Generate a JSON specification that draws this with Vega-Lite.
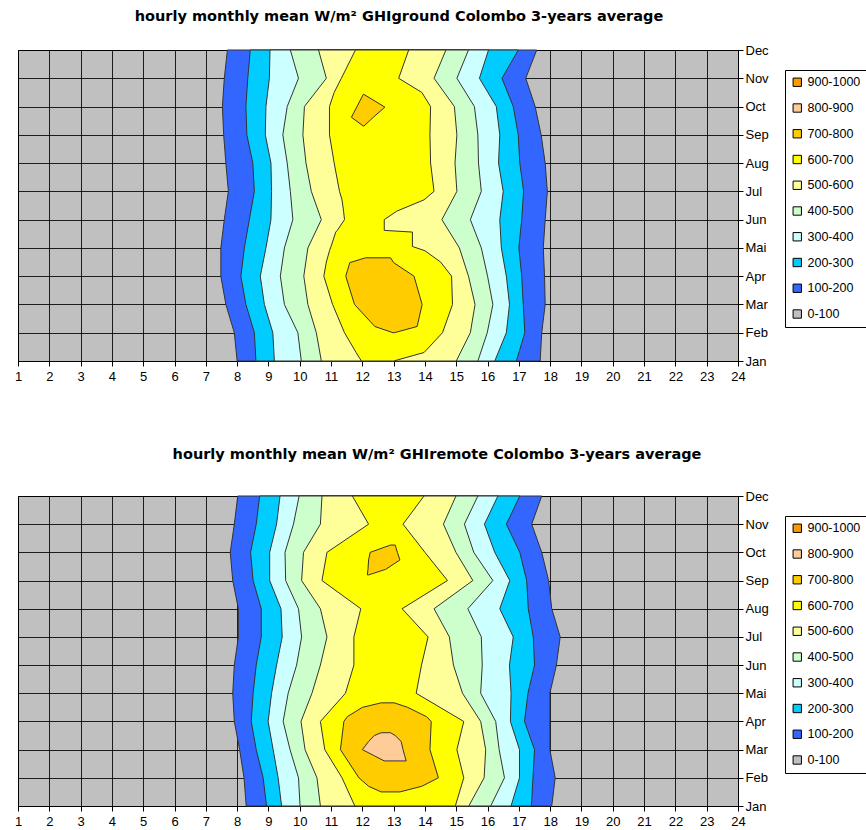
{
  "$schema": "https://vega.github.io/schema/vega-lite/v6.json",
  "background": "white",
  "padding": {"left": 13, "top": 8, "right": 0, "bottom": 0},
  "spacing": 62,
  "config": {
    "font": "Liberation Sans",
    "view": {"stroke": "#000", "strokeWidth": 1, "fill": "#C0C0C0"},
    "axis": {"grid": true, "gridColor": "#000", "gridOpacity": 0.85, "gridWidth": 1, "domainColor": "#000", "tickColor": "#000", "labelColor": "#000", "labelFontSize": 13, "tickSize": 5, "zindex": 1, "title": null, "labelOverlap": false},
    "legend": {"orient": "none", "legendX": 767, "legendY": 20, "title": null, "symbolType": "square", "symbolSize": 70, "symbolStrokeColor": "#000", "symbolStrokeWidth": 1, "labelFontSize": 12.5, "labelColor": "#000", "rowPadding": 12.75, "padding": 6, "strokeColor": "#000", "fillColor": "#fff", "labelOffset": 4, "labelLimit": 0},
    "title": {"fontSize": 14.5, "font": "DejaVu Sans", "fontWeight": "bold", "color": "#000", "frame": "group", "anchor": "middle"}
  },
  "resolve": {"scale": {"color": "independent"}, "legend": {"color": "independent"}},
  "datasets": {
    "ground": [
      {"b": "100-200", "p": "a", "m": 11, "lo": 7.69, "hi": 17.57},
      {"b": "100-200", "p": "a", "m": 10, "lo": 7.59, "hi": 17.22},
      {"b": "100-200", "p": "a", "m": 9, "lo": 7.53, "hi": 17.52},
      {"b": "100-200", "p": "a", "m": 8, "lo": 7.57, "hi": 17.71},
      {"b": "100-200", "p": "a", "m": 7, "lo": 7.64, "hi": 17.84},
      {"b": "100-200", "p": "a", "m": 6, "lo": 7.72, "hi": 17.91},
      {"b": "100-200", "p": "a", "m": 5, "lo": 7.59, "hi": 17.84},
      {"b": "100-200", "p": "a", "m": 4, "lo": 7.48, "hi": 17.78},
      {"b": "100-200", "p": "a", "m": 3, "lo": 7.48, "hi": 17.82},
      {"b": "100-200", "p": "a", "m": 2, "lo": 7.64, "hi": 17.84},
      {"b": "100-200", "p": "a", "m": 1, "lo": 7.91, "hi": 17.73},
      {"b": "100-200", "p": "a", "m": 0, "lo": 8.0, "hi": 17.68},
      {"b": "200-300", "p": "a", "m": 11, "lo": 8.42, "hi": 16.98},
      {"b": "200-300", "p": "a", "m": 10, "lo": 8.34, "hi": 16.46},
      {"b": "200-300", "p": "a", "m": 9, "lo": 8.28, "hi": 16.82},
      {"b": "200-300", "p": "a", "m": 8, "lo": 8.31, "hi": 16.98},
      {"b": "200-300", "p": "a", "m": 7, "lo": 8.5, "hi": 17.03},
      {"b": "200-300", "p": "a", "m": 6, "lo": 8.55, "hi": 17.15},
      {"b": "200-300", "p": "a", "m": 5, "lo": 8.39, "hi": 17.09},
      {"b": "200-300", "p": "a", "m": 4, "lo": 8.23, "hi": 17.0},
      {"b": "200-300", "p": "a", "m": 3, "lo": 8.12, "hi": 17.09},
      {"b": "200-300", "p": "a", "m": 2, "lo": 8.28, "hi": 17.14},
      {"b": "200-300", "p": "a", "m": 1, "lo": 8.55, "hi": 17.19},
      {"b": "200-300", "p": "a", "m": 0, "lo": 8.6, "hi": 16.92},
      {"b": "300-400", "p": "a", "m": 11, "lo": 9.05, "hi": 16.03},
      {"b": "300-400", "p": "a", "m": 10, "lo": 9.03, "hi": 15.74},
      {"b": "300-400", "p": "a", "m": 9, "lo": 8.92, "hi": 16.28},
      {"b": "300-400", "p": "a", "m": 8, "lo": 8.9, "hi": 16.39},
      {"b": "300-400", "p": "a", "m": 7, "lo": 9.08, "hi": 16.35},
      {"b": "300-400", "p": "a", "m": 6, "lo": 9.1, "hi": 16.5},
      {"b": "300-400", "p": "a", "m": 5, "lo": 9.08, "hi": 16.39},
      {"b": "300-400", "p": "a", "m": 4, "lo": 8.92, "hi": 16.44},
      {"b": "300-400", "p": "a", "m": 3, "lo": 8.74, "hi": 16.6},
      {"b": "300-400", "p": "a", "m": 2, "lo": 8.87, "hi": 16.7},
      {"b": "300-400", "p": "a", "m": 1, "lo": 9.14, "hi": 16.6},
      {"b": "300-400", "p": "a", "m": 0, "lo": 9.19, "hi": 16.23},
      {"b": "400-500", "p": "a", "m": 11, "lo": 9.7, "hi": 15.39},
      {"b": "400-500", "p": "a", "m": 10, "lo": 9.96, "hi": 15.02},
      {"b": "400-500", "p": "a", "m": 9, "lo": 9.6, "hi": 15.58},
      {"b": "400-500", "p": "a", "m": 8, "lo": 9.46, "hi": 15.69},
      {"b": "400-500", "p": "a", "m": 7, "lo": 9.6, "hi": 15.71},
      {"b": "400-500", "p": "a", "m": 6, "lo": 9.7, "hi": 15.8},
      {"b": "400-500", "p": "a", "m": 5, "lo": 9.78, "hi": 15.45},
      {"b": "400-500", "p": "a", "m": 4, "lo": 9.51, "hi": 15.8},
      {"b": "400-500", "p": "a", "m": 3, "lo": 9.38, "hi": 16.0},
      {"b": "400-500", "p": "a", "m": 2, "lo": 9.51, "hi": 16.17},
      {"b": "400-500", "p": "a", "m": 1, "lo": 9.94, "hi": 15.99},
      {"b": "400-500", "p": "a", "m": 0, "lo": 10.05, "hi": 15.69},
      {"b": "500-600", "p": "a", "m": 11, "lo": 10.6, "hi": 14.67},
      {"b": "500-600", "p": "a", "m": 10, "lo": 10.85, "hi": 14.29},
      {"b": "500-600", "p": "a", "m": 9, "lo": 10.15, "hi": 14.94},
      {"b": "500-600", "p": "a", "m": 8, "lo": 10.1, "hi": 15.02},
      {"b": "500-600", "p": "a", "m": 7, "lo": 10.2, "hi": 14.96},
      {"b": "500-600", "p": "a", "m": 6, "lo": 10.37, "hi": 15.02},
      {"b": "500-600", "p": "a", "m": 5, "lo": 10.69, "hi": 14.54},
      {"b": "500-600", "p": "a", "m": 4, "lo": 10.26, "hi": 15.1},
      {"b": "500-600", "p": "a", "m": 3, "lo": 10.13, "hi": 15.39},
      {"b": "500-600", "p": "a", "m": 2, "lo": 10.26, "hi": 15.6},
      {"b": "500-600", "p": "a", "m": 1, "lo": 10.53, "hi": 15.45},
      {"b": "500-600", "p": "a", "m": 0, "lo": 10.69, "hi": 15.0},
      {"b": "600-700", "p": "a", "m": 11, "lo": 11.78, "hi": 13.48},
      {"b": "600-700", "p": "a", "m": 10, "lo": 11.33, "hi": 13.16},
      {"b": "600-700", "p": "a", "m": 9.5, "lo": 11.1, "hi": 13.9},
      {"b": "600-700", "p": "a", "m": 9, "lo": 10.95, "hi": 14.18},
      {"b": "600-700", "p": "a", "m": 8, "lo": 10.95, "hi": 14.16},
      {"b": "600-700", "p": "a", "m": 7, "lo": 11.1, "hi": 14.18},
      {"b": "600-700", "p": "a", "m": 6, "lo": 11.27, "hi": 14.29},
      {"b": "600-700", "p": "a", "m": 5.7, "lo": 11.35, "hi": 13.97},
      {"b": "600-700", "p": "a", "m": 5.3, "lo": 11.4, "hi": 13.1},
      {"b": "600-700", "p": "a", "m": 5, "lo": 11.43, "hi": 12.7},
      {"b": "600-700", "p": "a", "m": 4.62, "lo": 11.2, "hi": 12.7},
      {"b": "600-700", "p": "a", "m": 4.56, "lo": 11.15, "hi": 13.6},
      {"b": "600-700", "p": "a", "m": 4.05, "lo": 11.0, "hi": 13.6},
      {"b": "600-700", "p": "a", "m": 3.9, "lo": 10.95, "hi": 14.0},
      {"b": "600-700", "p": "a", "m": 3.5, "lo": 10.85, "hi": 14.5},
      {"b": "600-700", "p": "a", "m": 3, "lo": 10.77, "hi": 14.85},
      {"b": "600-700", "p": "a", "m": 2, "lo": 11.05, "hi": 14.88},
      {"b": "600-700", "p": "a", "m": 1, "lo": 11.43, "hi": 14.56},
      {"b": "600-700", "p": "a", "m": 0.3, "lo": 11.8, "hi": 13.97},
      {"b": "600-700", "p": "a", "m": 0, "lo": 11.97, "hi": 13.0},
      {"b": "700-800", "p": "a", "m": 3.65, "lo": 12.1, "hi": 12.9},
      {"b": "700-800", "p": "a", "m": 3.48, "lo": 11.6, "hi": 13.0},
      {"b": "700-800", "p": "a", "m": 3, "lo": 11.47, "hi": 13.65},
      {"b": "700-800", "p": "a", "m": 2, "lo": 11.75, "hi": 13.91},
      {"b": "700-800", "p": "a", "m": 1.22, "lo": 12.4, "hi": 13.75},
      {"b": "700-800", "p": "a", "m": 1, "lo": 12.98, "hi": 13.02},
      {"b": "700-800", "p": "b", "m": 9.43, "lo": 12.03, "hi": 12.05},
      {"b": "700-800", "p": "b", "m": 8.98, "lo": 11.82, "hi": 12.72},
      {"b": "700-800", "p": "b", "m": 8.62, "lo": 11.65, "hi": 12.35},
      {"b": "700-800", "p": "b", "m": 8.31, "lo": 12.03, "hi": 12.05}
    ],
    "remote": [
      {"b": "100-200", "p": "a", "m": 11, "lo": 8.02, "hi": 17.73},
      {"b": "100-200", "p": "a", "m": 10, "lo": 7.91, "hi": 17.41},
      {"b": "100-200", "p": "a", "m": 9, "lo": 7.78, "hi": 17.73},
      {"b": "100-200", "p": "a", "m": 8, "lo": 7.86, "hi": 17.95},
      {"b": "100-200", "p": "a", "m": 7, "lo": 8.04, "hi": 18.05},
      {"b": "100-200", "p": "a", "m": 6, "lo": 8.04, "hi": 18.32},
      {"b": "100-200", "p": "a", "m": 5, "lo": 7.91, "hi": 18.2},
      {"b": "100-200", "p": "a", "m": 4, "lo": 7.86, "hi": 17.99},
      {"b": "100-200", "p": "a", "m": 3, "lo": 7.91, "hi": 17.99},
      {"b": "100-200", "p": "a", "m": 2, "lo": 8.08, "hi": 17.99},
      {"b": "100-200", "p": "a", "m": 1, "lo": 8.22, "hi": 18.16},
      {"b": "100-200", "p": "a", "m": 0, "lo": 8.29, "hi": 18.05},
      {"b": "200-300", "p": "a", "m": 11, "lo": 8.72, "hi": 17.03},
      {"b": "200-300", "p": "a", "m": 10, "lo": 8.61, "hi": 16.6},
      {"b": "200-300", "p": "a", "m": 9, "lo": 8.43, "hi": 17.03},
      {"b": "200-300", "p": "a", "m": 8, "lo": 8.51, "hi": 17.25},
      {"b": "200-300", "p": "a", "m": 7, "lo": 8.77, "hi": 17.3},
      {"b": "200-300", "p": "a", "m": 6, "lo": 8.77, "hi": 17.46},
      {"b": "200-300", "p": "a", "m": 5, "lo": 8.61, "hi": 17.5},
      {"b": "200-300", "p": "a", "m": 4, "lo": 8.51, "hi": 17.29},
      {"b": "200-300", "p": "a", "m": 3, "lo": 8.45, "hi": 17.18},
      {"b": "200-300", "p": "a", "m": 2, "lo": 8.61, "hi": 17.5},
      {"b": "200-300", "p": "a", "m": 1, "lo": 8.83, "hi": 17.45},
      {"b": "200-300", "p": "a", "m": 0, "lo": 8.94, "hi": 17.4},
      {"b": "300-400", "p": "a", "m": 11, "lo": 9.37, "hi": 16.33},
      {"b": "300-400", "p": "a", "m": 10, "lo": 9.26, "hi": 15.9},
      {"b": "300-400", "p": "a", "m": 9, "lo": 9.04, "hi": 16.23},
      {"b": "300-400", "p": "a", "m": 8, "lo": 9.04, "hi": 16.71},
      {"b": "300-400", "p": "a", "m": 7, "lo": 9.4, "hi": 16.39},
      {"b": "300-400", "p": "a", "m": 6, "lo": 9.44, "hi": 16.82},
      {"b": "300-400", "p": "a", "m": 5, "lo": 9.26, "hi": 16.7},
      {"b": "300-400", "p": "a", "m": 4, "lo": 9.1, "hi": 16.75},
      {"b": "300-400", "p": "a", "m": 3, "lo": 8.99, "hi": 16.73},
      {"b": "300-400", "p": "a", "m": 2, "lo": 9.15, "hi": 17.02},
      {"b": "300-400", "p": "a", "m": 1, "lo": 9.31, "hi": 17.02},
      {"b": "300-400", "p": "a", "m": 0, "lo": 9.42, "hi": 16.75},
      {"b": "400-500", "p": "a", "m": 11, "lo": 9.98, "hi": 15.69},
      {"b": "400-500", "p": "a", "m": 10, "lo": 9.8, "hi": 15.26},
      {"b": "400-500", "p": "a", "m": 9, "lo": 9.53, "hi": 15.56},
      {"b": "400-500", "p": "a", "m": 8, "lo": 9.55, "hi": 16.17},
      {"b": "400-500", "p": "a", "m": 7, "lo": 9.96, "hi": 15.37},
      {"b": "400-500", "p": "a", "m": 6, "lo": 10.06, "hi": 15.8},
      {"b": "400-500", "p": "a", "m": 5, "lo": 9.9, "hi": 15.83},
      {"b": "400-500", "p": "a", "m": 4, "lo": 9.63, "hi": 15.78},
      {"b": "400-500", "p": "a", "m": 3, "lo": 9.47, "hi": 16.26},
      {"b": "400-500", "p": "a", "m": 2, "lo": 9.69, "hi": 16.37},
      {"b": "400-500", "p": "a", "m": 1, "lo": 9.96, "hi": 16.54},
      {"b": "400-500", "p": "a", "m": 0, "lo": 10.01, "hi": 16.1},
      {"b": "500-600", "p": "a", "m": 11, "lo": 10.71, "hi": 14.99},
      {"b": "500-600", "p": "a", "m": 10, "lo": 10.66, "hi": 14.59},
      {"b": "500-600", "p": "a", "m": 9, "lo": 10.12, "hi": 14.99},
      {"b": "500-600", "p": "a", "m": 8, "lo": 10.06, "hi": 15.53},
      {"b": "500-600", "p": "a", "m": 7, "lo": 10.66, "hi": 14.29},
      {"b": "500-600", "p": "a", "m": 6, "lo": 10.87, "hi": 14.78},
      {"b": "500-600", "p": "a", "m": 5, "lo": 10.66, "hi": 14.91},
      {"b": "500-600", "p": "a", "m": 4, "lo": 10.39, "hi": 15.2},
      {"b": "500-600", "p": "a", "m": 3, "lo": 10.04, "hi": 15.78},
      {"b": "500-600", "p": "a", "m": 2, "lo": 10.17, "hi": 15.94},
      {"b": "500-600", "p": "a", "m": 1, "lo": 10.55, "hi": 15.89},
      {"b": "500-600", "p": "a", "m": 0, "lo": 10.66, "hi": 15.4},
      {"b": "600-700", "p": "a", "m": 11, "lo": 11.68, "hi": 13.97},
      {"b": "600-700", "p": "a", "m": 10, "lo": 12.2, "hi": 13.3},
      {"b": "600-700", "p": "a", "m": 9, "lo": 10.87, "hi": 14.0},
      {"b": "600-700", "p": "a", "m": 8, "lo": 10.71, "hi": 14.72},
      {"b": "600-700", "p": "a", "m": 7, "lo": 11.95, "hi": 13.27},
      {"b": "600-700", "p": "a", "m": 6, "lo": 11.73, "hi": 14.1},
      {"b": "600-700", "p": "a", "m": 5, "lo": 11.73, "hi": 13.89},
      {"b": "600-700", "p": "a", "m": 4, "lo": 11.46, "hi": 13.72},
      {"b": "600-700", "p": "a", "m": 3, "lo": 10.66, "hi": 15.24},
      {"b": "600-700", "p": "a", "m": 2, "lo": 10.8, "hi": 15.02},
      {"b": "600-700", "p": "a", "m": 1, "lo": 11.35, "hi": 15.24},
      {"b": "600-700", "p": "a", "m": 0, "lo": 11.76, "hi": 14.97},
      {"b": "700-800", "p": "a", "m": 3.66, "lo": 12.6, "hi": 13.02},
      {"b": "700-800", "p": "a", "m": 3.5, "lo": 12.0, "hi": 13.45},
      {"b": "700-800", "p": "a", "m": 3.17, "lo": 11.52, "hi": 14.05},
      {"b": "700-800", "p": "a", "m": 3, "lo": 11.41, "hi": 14.2},
      {"b": "700-800", "p": "a", "m": 2, "lo": 11.3, "hi": 14.16},
      {"b": "700-800", "p": "a", "m": 1, "lo": 11.89, "hi": 14.43},
      {"b": "700-800", "p": "a", "m": 0.7, "lo": 12.2, "hi": 13.9},
      {"b": "700-800", "p": "a", "m": 0.5, "lo": 12.6, "hi": 13.2},
      {"b": "700-800", "p": "b", "m": 9.26, "lo": 12.9, "hi": 13.05},
      {"b": "700-800", "p": "b", "m": 9.0, "lo": 12.25, "hi": 13.12},
      {"b": "700-800", "p": "b", "m": 8.73, "lo": 12.2, "hi": 13.2},
      {"b": "700-800", "p": "b", "m": 8.4, "lo": 12.18, "hi": 12.75},
      {"b": "700-800", "p": "b", "m": 8.2, "lo": 12.16, "hi": 12.2},
      {"b": "800-900", "p": "a", "m": 2.6, "lo": 12.6, "hi": 12.9},
      {"b": "800-900", "p": "a", "m": 2.5, "lo": 12.38, "hi": 13.05},
      {"b": "800-900", "p": "a", "m": 2.29, "lo": 12.2, "hi": 13.24},
      {"b": "800-900", "p": "a", "m": 2.0, "lo": 12.0, "hi": 13.3},
      {"b": "800-900", "p": "a", "m": 1.8, "lo": 12.35, "hi": 13.35},
      {"b": "800-900", "p": "a", "m": 1.6, "lo": 12.7, "hi": 13.4}
    ]
  },
  "vconcat": [
    {
      "width": 720,
      "height": 311,
      "title": {"text": "hourly monthly mean W/m² GHIground Colombo 3-years average", "dx": 21, "offset": 20},
      "data": {"name": "ground"},
      "encoding": {
        "y": {"field": "m", "type": "quantitative", "scale": {"domain": [0, 11], "nice": false, "zero": false}, "axis": {"orient": "right", "values": [0, 1, 2, 3, 4, 5, 6, 7, 8, 9, 10, 11], "labelExpr": "['Jan','Feb','Mar','Apr','Mai','Jun','Jul','Aug','Sep','Oct','Nov','Dec'][datum.value]", "labelPadding": 2}},
        "x": {"field": "lo", "type": "quantitative", "stack": null, "scale": {"domain": [1, 24], "nice": false, "zero": false}, "axis": {"values": [1, 2, 3, 4, 5, 6, 7, 8, 9, 10, 11, 12, 13, 14, 15, 16, 17, 18, 19, 20, 21, 22, 23, 24], "labelFlush": false, "labelPadding": 4}},
        "x2": {"field": "hi"},
        "color": {"field": "b", "type": "nominal", "scale": {"domain": ["900-1000", "800-900", "700-800", "600-700", "500-600", "400-500", "300-400", "200-300", "100-200", "0-100"], "range": ["#FF9900", "#FFCC99", "#FFCC00", "#FFFF00", "#FFFF99", "#CCFFCC", "#CCFFFF", "#00CCFF", "#3366FF", "#C0C0C0"]}},
        "detail": {"field": "p"}
      },
      "layer": [
        {"transform": [{"filter": {"field": "b", "equal": "100-200"}}], "mark": {"type": "area", "orient": "horizontal", "stroke": "#333", "strokeWidth": 1}},
        {"transform": [{"filter": {"field": "b", "equal": "200-300"}}], "mark": {"type": "area", "orient": "horizontal", "stroke": "#333", "strokeWidth": 1}},
        {"transform": [{"filter": {"field": "b", "equal": "300-400"}}], "mark": {"type": "area", "orient": "horizontal", "stroke": "#333", "strokeWidth": 1}},
        {"transform": [{"filter": {"field": "b", "equal": "400-500"}}], "mark": {"type": "area", "orient": "horizontal", "stroke": "#333", "strokeWidth": 1}},
        {"transform": [{"filter": {"field": "b", "equal": "500-600"}}], "mark": {"type": "area", "orient": "horizontal", "stroke": "#333", "strokeWidth": 1}},
        {"transform": [{"filter": {"field": "b", "equal": "600-700"}}], "mark": {"type": "area", "orient": "horizontal", "stroke": "#333", "strokeWidth": 1}},
        {"transform": [{"filter": {"field": "b", "equal": "700-800"}}], "mark": {"type": "area", "orient": "horizontal", "stroke": "#333", "strokeWidth": 1}}
      ]
    },
    {
      "width": 720,
      "height": 310,
      "title": {"text": "hourly monthly mean W/m² GHIremote Colombo 3-years average", "dx": 59, "offset": 28},
      "data": {"name": "remote"},
      "encoding": {
        "y": {"field": "m", "type": "quantitative", "scale": {"domain": [0, 11], "nice": false, "zero": false}, "axis": {"orient": "right", "values": [0, 1, 2, 3, 4, 5, 6, 7, 8, 9, 10, 11], "labelExpr": "['Jan','Feb','Mar','Apr','Mai','Jun','Jul','Aug','Sep','Oct','Nov','Dec'][datum.value]", "labelPadding": 2}},
        "x": {"field": "lo", "type": "quantitative", "stack": null, "scale": {"domain": [1, 24], "nice": false, "zero": false}, "axis": {"values": [1, 2, 3, 4, 5, 6, 7, 8, 9, 10, 11, 12, 13, 14, 15, 16, 17, 18, 19, 20, 21, 22, 23, 24], "labelFlush": false, "labelPadding": 4}},
        "x2": {"field": "hi"},
        "color": {"field": "b", "type": "nominal", "scale": {"domain": ["900-1000", "800-900", "700-800", "600-700", "500-600", "400-500", "300-400", "200-300", "100-200", "0-100"], "range": ["#FF9900", "#FFCC99", "#FFCC00", "#FFFF00", "#FFFF99", "#CCFFCC", "#CCFFFF", "#00CCFF", "#3366FF", "#C0C0C0"]}},
        "detail": {"field": "p"}
      },
      "layer": [
        {"transform": [{"filter": {"field": "b", "equal": "100-200"}}], "mark": {"type": "area", "orient": "horizontal", "stroke": "#333", "strokeWidth": 1}},
        {"transform": [{"filter": {"field": "b", "equal": "200-300"}}], "mark": {"type": "area", "orient": "horizontal", "stroke": "#333", "strokeWidth": 1}},
        {"transform": [{"filter": {"field": "b", "equal": "300-400"}}], "mark": {"type": "area", "orient": "horizontal", "stroke": "#333", "strokeWidth": 1}},
        {"transform": [{"filter": {"field": "b", "equal": "400-500"}}], "mark": {"type": "area", "orient": "horizontal", "stroke": "#333", "strokeWidth": 1}},
        {"transform": [{"filter": {"field": "b", "equal": "500-600"}}], "mark": {"type": "area", "orient": "horizontal", "stroke": "#333", "strokeWidth": 1}},
        {"transform": [{"filter": {"field": "b", "equal": "600-700"}}], "mark": {"type": "area", "orient": "horizontal", "stroke": "#333", "strokeWidth": 1}},
        {"transform": [{"filter": {"field": "b", "equal": "700-800"}}], "mark": {"type": "area", "orient": "horizontal", "stroke": "#333", "strokeWidth": 1}},
        {"transform": [{"filter": {"field": "b", "equal": "800-900"}}], "mark": {"type": "area", "orient": "horizontal", "stroke": "#333", "strokeWidth": 1}}
      ]
    }
  ]
}
